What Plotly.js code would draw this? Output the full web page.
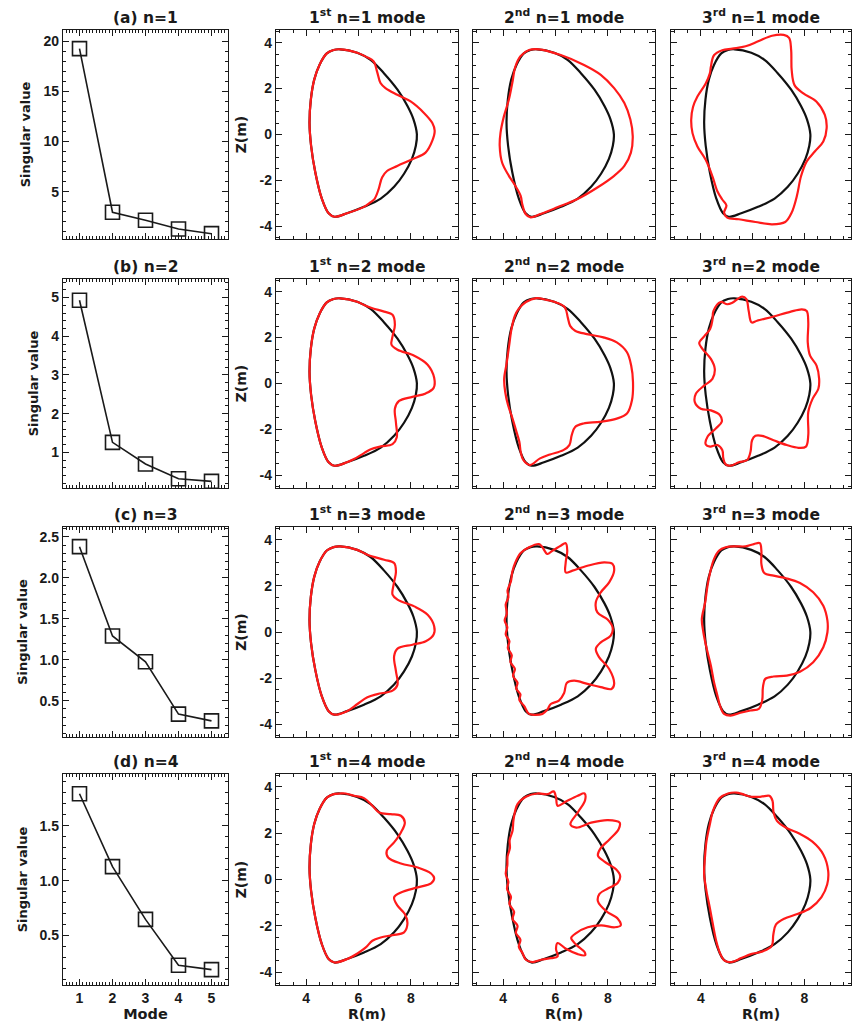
<!DOCTYPE html>
<html><head><meta charset="utf-8">
<script src="https://cdn.plot.ly/plotly-3.0.1.min.js"></script>
<style>html,body{margin:0;padding:0;background:#fff}#plot{width:855px;height:1023px}</style>
</head><body><div id="plot"></div>
<script>
// ---- singular values ----
const modes = [1, 2, 3, 4, 5];
const svN1 = [19.25, 2.96, 2.16, 1.30, 0.83];
const svN2 = [4.93, 1.26, 0.70, 0.32, 0.25];
const svN3 = [2.38, 1.29, 0.975, 0.336, 0.254];
const svN4 = [1.79, 1.127, 0.647, 0.23, 0.19];
const rowTitles = ['(a) n=1', '(b) n=2', '(c) n=3', '(d) n=4'];
const modeTitles = [
  ['1<sup>st</sup> n=1 mode', '2<sup>nd</sup> n=1 mode', '3<sup>rd</sup> n=1 mode'],
  ['1<sup>st</sup> n=2 mode', '2<sup>nd</sup> n=2 mode', '3<sup>rd</sup> n=2 mode'],
  ['1<sup>st</sup> n=3 mode', '2<sup>nd</sup> n=3 mode', '3<sup>rd</sup> n=3 mode'],
  ['1<sup>st</sup> n=4 mode', '2<sup>nd</sup> n=4 mode', '3<sup>rd</sup> n=4 mode']
];
const svTicks = [[5, 10, 15, 20], [1, 2, 3, 4, 5], [0.5, 1.0, 1.5, 2.0, 2.5], [0.5, 1.0, 1.5]];
const svTickText = [['5', '10', '15', '20'], ['1', '2', '3', '4', '5'], ['0.5', '1.0', '1.5', '2.0', '2.5'], ['0.5', '1.0', '1.5']];
const svRanges = [[0.3, 21.1], [0.08, 5.48], [0.057, 2.62], [0.05, 1.97]];
const rTicks = [4, 6, 8];
const zTicks = [-4, -2, 0, 2, 4];
const zTickText = ['-4', '-2', '0', '2', '4'];

// ---- equilibrium boundary (black) ----
const boundR = [5.3,5.95,6.46,6.97,7.49,7.87,8.1,8.23,8.19,8.04,7.74,7.36,6.85,6.21,5.56,5.08,4.86,4.6,4.35,4.19,4.13,4.18,4.31,4.51,4.79,5.05,5.3];
const boundZ = [3.71,3.56,3.25,2.67,1.95,1.24,0.66,0.01,-0.49,-1.06,-1.71,-2.28,-2.79,-3.15,-3.43,-3.58,-3.43,-2.79,-1.64,-0.49,0.52,1.52,2.39,3.03,3.53,3.68,3.71];

// ---- perturbed boundaries (red) ----
const n1m1R = [5.3,5.95,6.3,6.58,6.71,6.84,7.03,7.48,7.99,8.5,8.82,8.91,8.82,8.56,8.05,7.48,7.09,6.9,6.77,6.61,6.45,6.21,5.56,5.08,4.86,4.6,4.35,4.19,4.13,4.18,4.31,4.51,4.79,5.05,5.3];
const n1m1Z = [3.71,3.56,3.38,3.18,2.74,2.24,2.02,1.73,1.44,0.94,0.5,0.16,-0.27,-0.79,-1.08,-1.37,-1.59,-1.87,-2.38,-2.81,-2.96,-3.15,-3.43,-3.58,-3.43,-2.79,-1.64,-0.49,0.52,1.52,2.39,3.03,3.53,3.68,3.71];
const n1m2R = [5.37,6.2,7.09,7.73,8.24,8.63,8.86,8.95,8.88,8.63,8.24,7.6,6.84,6.07,5.43,5.05,4.86,4.73,4.67,4.47,4.22,3.96,3.87,3.9,4.03,4.22,4.35,4.47,4.67,4.99,5.37];
const n1m2Z = [3.71,3.46,3.03,2.6,2.02,1.37,0.65,-0.07,-0.79,-1.37,-1.8,-2.31,-2.81,-3.17,-3.46,-3.61,-3.46,-3.03,-2.67,-2.24,-1.8,-1.22,-0.5,0.07,0.79,1.52,2.24,2.96,3.42,3.68,3.71];
const n1m3R = [4.39,4.51,4.83,5.22,5.73,6.24,6.75,7.2,7.41,7.49,7.51,7.62,7.96,8.47,8.79,8.86,8.73,8.41,8.09,7.87,7.71,7.51,7.26,6.75,6.11,5.47,5.02,4.9,4.99,4.83,4.64,4.45,4.19,3.87,3.68,3.63,3.7,3.87,4.19,4.35,4.39];
const n1m3Z = [2.95,3.45,3.67,3.74,3.84,4.07,4.3,4.34,4.21,3.67,2.8,2.15,1.79,1.43,0.85,0.28,-0.3,-0.73,-1.17,-1.82,-2.68,-3.4,-3.81,-3.91,-3.81,-3.69,-3.62,-3.4,-3.09,-2.83,-2.47,-1.82,-1.1,-0.52,0.06,0.64,1.2,1.65,2.22,2.66,2.95];

const n2m1R = [5.3,5.95,6.21,6.53,6.98,7.3,7.39,7.3,7.26,7.49,8.13,8.64,8.89,8.87,8.57,8.06,7.55,7.39,7.43,7.46,7.3,6.85,6.47,6.21,5.83,5.56,5.08,4.86,4.6,4.35,4.19,4.13,4.18,4.31,4.51,4.79,5.05,5.3];
const n2m1Z = [3.71,3.56,3.42,3.28,3.13,2.99,2.56,2.05,1.69,1.47,1.21,0.82,0.25,-0.19,-0.43,-0.58,-0.76,-1.1,-1.7,-2.35,-2.64,-2.74,-2.86,-3.03,-3.29,-3.43,-3.58,-3.43,-2.79,-1.64,-0.49,0.52,1.52,2.39,3.03,3.53,3.68,3.71];
const n2m2R = [4.58,4.87,5.28,5.66,6.05,6.36,6.47,6.56,6.75,7.2,7.83,8.34,8.73,8.89,8.96,8.92,8.73,8.34,7.71,7.07,6.75,6.62,6.53,6.3,5.79,5.41,5.02,4.77,4.67,4.62,4.49,4.36,4.19,4.08,4.04,4.13,4.23,4.32,4.45,4.58];
const n2m2Z = [3.23,3.55,3.72,3.64,3.52,3.31,2.87,2.51,2.3,2.15,2.01,1.79,1.36,0.78,0.06,-0.73,-1.31,-1.53,-1.67,-1.74,-1.89,-2.25,-2.68,-2.9,-3.09,-3.26,-3.55,-3.33,-2.97,-2.54,-2.03,-1.53,-0.95,-0.37,0.2,0.85,1.65,2.37,2.95,3.23];
const n2m3R = [4.49,4.77,5.02,5.22,5.41,5.6,5.76,5.85,5.96,6.17,6.81,7.45,7.9,8.09,8.15,8.13,8.22,8.47,8.57,8.54,8.32,8.15,8.15,8.06,7.77,7.32,6.81,6.37,6.11,5.98,5.92,5.79,5.47,5.15,4.96,4.87,4.83,4.64,4.36,4.19,4.26,4.58,4.81,4.74,4.39,4.0,3.77,3.81,4.13,4.45,4.54,4.39,4.07,3.94,4.13,4.36,4.45,4.49];
const n2m3Z = [3.16,3.55,3.45,3.52,3.67,3.78,3.67,3.16,2.66,2.73,2.92,3.12,3.23,3.16,2.66,1.79,1.21,0.78,0.2,-0.23,-0.66,-1.24,-2.25,-2.75,-2.8,-2.68,-2.47,-2.28,-2.28,-2.47,-2.97,-3.33,-3.43,-3.58,-3.52,-3.26,-2.9,-2.68,-2.75,-2.65,-2.32,-1.96,-1.67,-1.38,-1.17,-1.1,-0.81,-0.45,-0.09,0.2,0.64,1.07,1.5,1.76,2.05,2.37,2.77,3.16];

const n3m1R = [5.3,5.95,6.34,6.98,7.36,7.43,7.34,7.3,7.49,8.13,8.64,8.89,8.87,8.57,8.06,7.49,7.36,7.43,7.49,7.3,6.72,6.34,5.96,5.56,5.08,4.86,4.6,4.35,4.19,4.13,4.18,4.31,4.51,4.79,5.05,5.3];
const n3m1Z = [3.71,3.56,3.35,3.13,2.99,2.63,2.05,1.62,1.4,1.11,0.75,0.25,-0.11,-0.4,-0.55,-0.72,-1.05,-1.7,-2.28,-2.54,-2.69,-2.83,-3.12,-3.43,-3.58,-3.43,-2.79,-1.64,-0.49,0.52,1.52,2.39,3.03,3.53,3.68,3.71];
const n3m2R = [4.47,4.67,4.99,5.37,5.5,5.69,5.88,6.2,6.39,6.45,6.39,6.39,6.65,7.22,7.86,8.18,8.24,8.05,7.73,7.54,7.6,7.99,8.18,8.11,7.73,7.54,7.67,8.05,8.24,8.14,7.73,7.22,6.71,6.43,6.33,6.13,5.82,5.69,5.5,5.24,4.99,4.8,4.62,4.66,4.5,4.55,4.38,4.45,4.28,4.33,4.18,4.24,4.1,4.16,4.06,4.14,4.1,4.2,4.17,4.3,4.35,4.47];
const n3m2Z = [3.02,3.42,3.67,3.81,3.67,3.38,3.52,3.74,3.85,3.52,3.02,2.58,2.66,2.87,3.02,2.95,2.66,2.15,1.72,1.29,0.85,0.54,0.2,-0.16,-0.45,-0.73,-1.1,-1.6,-2.25,-2.47,-2.39,-2.25,-2.11,-2.21,-2.64,-2.97,-3.12,-3.36,-3.55,-3.59,-3.55,-3.2,-2.95,-2.7,-2.45,-2.2,-1.9,-1.6,-1.3,-1.0,-0.7,-0.4,-0.1,0.2,0.5,0.8,1.2,1.5,1.8,2.2,2.6,3.02];
const n3m3R = [4.51,4.7,4.96,5.34,5.73,6.05,6.28,6.34,6.34,6.45,6.81,7.32,7.83,8.34,8.73,8.89,8.89,8.73,8.34,7.83,7.32,6.81,6.49,6.4,6.37,6.24,5.92,5.53,5.15,4.9,4.74,4.64,4.51,4.39,4.23,4.1,4.04,4.17,4.26,4.36,4.51];
const n3m3Z = [3.16,3.52,3.67,3.71,3.71,3.81,3.85,3.52,2.95,2.56,2.44,2.32,2.12,1.72,1.14,0.49,-0.01,-0.66,-1.31,-1.72,-1.89,-1.93,-2.03,-2.39,-2.97,-3.33,-3.4,-3.5,-3.62,-3.55,-3.19,-2.75,-2.18,-1.46,-0.73,-0.01,0.56,1.29,2.01,2.58,3.16];

const n4m1R = [5.3,5.51,5.83,6.21,6.53,6.79,7.23,7.62,7.77,7.62,7.36,7.08,7.13,7.62,8.26,8.77,8.89,8.77,8.26,7.62,7.36,7.49,7.77,7.87,7.74,7.3,6.85,6.53,6.28,5.96,5.57,5.08,4.86,4.6,4.35,4.19,4.13,4.18,4.31,4.51,4.79,5.05,5.3];
const n4m1Z = [3.71,3.71,3.61,3.51,3.18,2.89,2.82,2.75,2.46,2.03,1.6,1.24,0.95,0.69,0.52,0.26,0.06,-0.17,-0.34,-0.56,-0.77,-1.13,-1.49,-1.89,-2.28,-2.4,-2.5,-2.64,-2.93,-3.19,-3.43,-3.58,-3.43,-2.79,-1.64,-0.49,0.52,1.52,2.39,3.03,3.53,3.68,3.71];
const n4m2R = [4.55,4.87,5.32,5.7,5.93,6.02,6.08,6.4,6.85,7.11,7.13,6.85,6.57,6.79,7.36,8.0,8.45,8.41,8.06,7.72,7.62,7.87,8.32,8.47,8.38,8.0,7.68,7.62,7.94,8.38,8.49,8.26,7.74,7.23,6.79,6.6,6.79,7.11,7.13,6.85,6.4,6.08,6.02,6.08,5.83,5.45,5.13,4.87,4.74,4.6,4.66,4.49,4.55,4.36,4.42,4.24,4.3,4.15,4.2,4.1,4.16,4.17,4.26,4.25,4.36,4.4,4.55];
const n4m2Z = [3.25,3.57,3.71,3.68,3.8,3.54,3.18,3.36,3.61,3.71,3.42,2.89,2.38,2.24,2.45,2.56,2.45,2.17,1.73,1.34,1.04,0.77,0.43,0.15,-0.14,-0.39,-0.62,-0.94,-1.37,-1.69,-1.98,-2.06,-1.98,-2.06,-2.31,-2.52,-2.81,-3.13,-3.27,-3.22,-2.99,-2.74,-2.99,-3.32,-3.39,-3.46,-3.56,-3.46,-3.17,-2.9,-2.6,-2.3,-2.0,-1.7,-1.4,-1.05,-0.75,-0.4,-0.1,0.25,0.6,1.0,1.35,1.7,2.1,2.6,3.25];
const n4m3R = [4.47,4.73,5.05,5.37,5.62,5.94,6.33,6.65,6.77,6.81,6.94,7.28,7.8,8.31,8.73,8.92,8.88,8.66,8.24,7.73,7.22,6.9,6.8,6.74,6.39,5.94,5.56,5.18,4.92,4.74,4.6,4.47,4.35,4.22,4.13,4.16,4.22,4.35,4.47];
const n4m3Z = [2.96,3.51,3.71,3.75,3.68,3.57,3.57,3.61,3.39,2.89,2.53,2.24,1.98,1.63,1.08,0.36,-0.22,-0.76,-1.23,-1.49,-1.69,-1.95,-2.38,-2.86,-3.1,-3.22,-3.39,-3.56,-3.5,-3.17,-2.67,-1.95,-1.23,-0.5,0.22,0.94,1.66,2.38,2.96];

const svSeries = [svN1, svN2, svN3, svN4];
const redR = [[n1m1R, n1m2R, n1m3R], [n2m1R, n2m2R, n2m3R], [n3m1R, n3m2R, n3m3R], [n4m1R, n4m2R, n4m3R]];
const redZ = [[n1m1Z, n1m2Z, n1m3Z], [n2m1Z, n2m2Z, n2m3Z], [n3m1Z, n3m2Z, n3m3Z], [n4m1Z, n4m2Z, n4m3Z]];

// ---- layout geometry (pixels) ----
const W = 855, H = 1023;
const colPx = [[63, 228], [276, 458], [473, 655], [671, 851]];
const rowPx = [[30, 239], [279, 488], [527, 737], [774, 985]];
const FONT = 'Liberation Sans, Arial, Helvetica, sans-serif';
const TFONT = 'DejaVu Sans, Liberation Sans, sans-serif';
const INK = '#1a1a1a';

const traces = [];
const layout = {
  width: W, height: H, margin: {l: 0, r: 0, t: 0, b: 0},
  paper_bgcolor: '#fff', plot_bgcolor: '#fff', showlegend: false,
  font: {family: FONT, size: 14, color: INK, weight: 'bold'},
  annotations: []
};

function axisBase(dom, range, anchor) {
  return {
    domain: dom, range: range, anchor: anchor, showgrid: false, zeroline: false,
    showline: true, mirror: 'allticks', linecolor: INK, linewidth: 1.2,
    ticks: 'inside', ticklen: 6, tickwidth: 1, tickcolor: INK,
    tickfont: {family: FONT, size: 14, color: INK, weight: 'bold'},
    fixedrange: true
  };
}
function tfont(size) { return {family: TFONT, size: size, color: INK, weight: 'bold'}; }

for (let r = 0; r < 4; r++) {
  for (let c = 0; c < 4; c++) {
    const k = r * 4 + c + 1;
    const xa = k === 1 ? 'x' : 'x' + k;
    const ya = k === 1 ? 'y' : 'y' + k;
    const xd = [colPx[c][0] / W, colPx[c][1] / W];
    const yd = [1 - rowPx[r][1] / H, 1 - rowPx[r][0] / H];
    let xax, yax;
    if (c === 0) {
      xax = axisBase(xd, [0.5, 5.5], ya);
      xax.tickmode = 'array'; xax.tickvals = modes; xax.ticktext = modes.map(String);
      xax.minor = {ticks: 'inside', ticklen: 3, tickcolor: INK, tickmode: 'linear', tick0: 0, dtick: 0.1};
      xax.showticklabels = (r === 3);
      if (r === 3) xax.title = {text: 'Mode', font: tfont(14.5), standoff: 2};
      yax = axisBase(yd, svRanges[r], xa);
      yax.tickmode = 'array'; yax.tickvals = svTicks[r]; yax.ticktext = svTickText[r];
      const md = [1, 0.2, 0.1, 0.1][r];
      yax.minor = {ticks: 'inside', ticklen: 3, tickcolor: INK, tickmode: 'linear', tick0: 0, dtick: md};
      yax.title = {text: 'Singular value', font: tfont(13), standoff: 9};
      traces.push({x: modes, y: svSeries[r], xaxis: xa, yaxis: ya, type: 'scatter', mode: 'lines+markers',
        line: {color: INK, width: 1.6},
        marker: {symbol: 'square-open', size: 14, color: INK, line: {width: 1.6, color: INK}},
        hoverinfo: 'skip'});
      layout.annotations.push({text: rowTitles[r], xref: 'paper', yref: 'paper',
        x: (xd[0] + xd[1]) / 2, y: yd[1], xanchor: 'center', yanchor: 'bottom', yshift: 1,
        showarrow: false, font: tfont(15.5)});
    } else {
      xax = axisBase(xd, [2.85, 9.8], ya);
      xax.tickmode = 'array'; xax.tickvals = rTicks; xax.ticktext = rTicks.map(String);
      xax.minor = {ticks: 'inside', ticklen: 3, tickcolor: INK, tickmode: 'linear', tick0: 0, dtick: 0.5};
      xax.showticklabels = (r === 3);
      if (r === 3) xax.title = {text: 'R(m)', font: tfont(14), standoff: 2};
      yax = axisBase(yd, [-4.55, 4.55], xa);
      yax.tickmode = 'array'; yax.tickvals = zTicks; yax.ticktext = zTickText;
      yax.minor = {ticks: 'inside', ticklen: 3, tickcolor: INK, tickmode: 'linear', tick0: 0, dtick: 0.5};
      yax.showticklabels = (c === 1);
      if (c === 1) yax.title = {text: 'Z(m)', font: tfont(14), standoff: 9};
      traces.push({x: boundR, y: boundZ, xaxis: xa, yaxis: ya, type: 'scatter', mode: 'lines',
        line: {color: '#111', width: 2.2, shape: 'spline', smoothing: 1}, hoverinfo: 'skip'});
      traces.push({x: redR[r][c - 1], y: redZ[r][c - 1], xaxis: xa, yaxis: ya, type: 'scatter', mode: 'lines',
        line: {color: '#ff1a1a', width: 2.2, shape: 'spline', smoothing: 1}, hoverinfo: 'skip'});
      layout.annotations.push({text: modeTitles[r][c - 1], xref: 'paper', yref: 'paper',
        x: (xd[0] + xd[1]) / 2, y: yd[1], xanchor: 'center', yanchor: 'bottom', yshift: 1,
        showarrow: false, font: tfont(15.5)});
    }
    layout[k === 1 ? 'xaxis' : 'xaxis' + k] = xax;
    layout[k === 1 ? 'yaxis' : 'yaxis' + k] = yax;
  }
}

Plotly.newPlot('plot', traces, layout, {displayModeBar: false, staticPlot: true});
</script>
</body></html>
